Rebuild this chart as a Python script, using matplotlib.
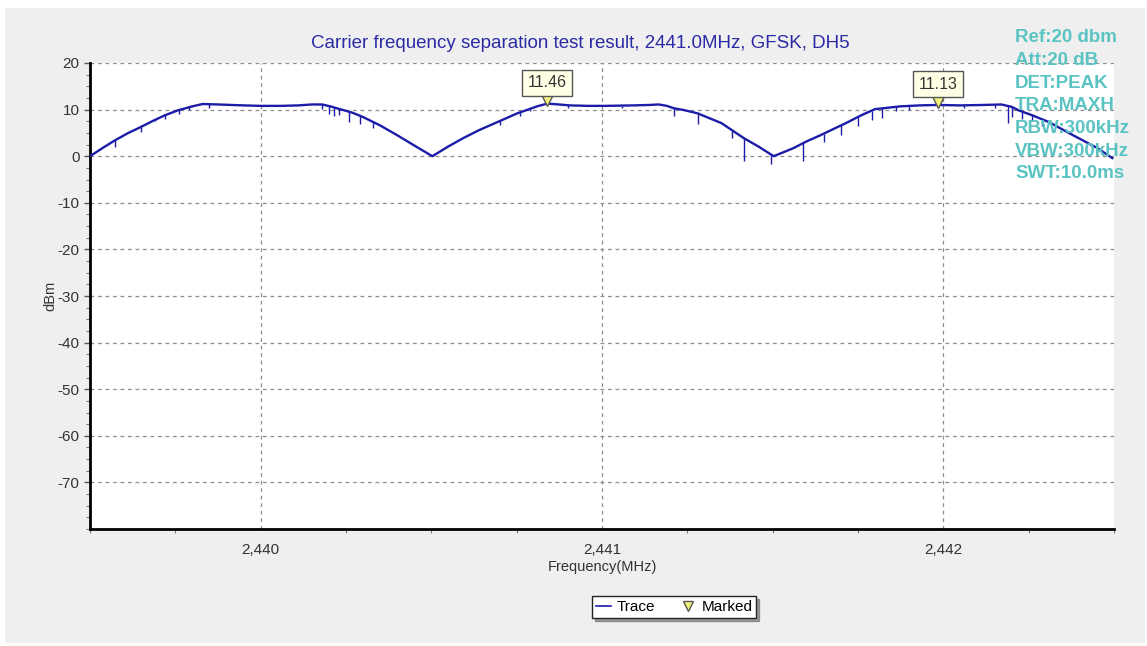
import numpy as np
import matplotlib
matplotlib.use("Agg")
import matplotlib.pyplot as plt
from matplotlib.patches import Rectangle
from matplotlib.ticker import FuncFormatter, MultipleLocator
from matplotlib.lines import Line2D

plt.rcParams['font.family'] = ['Liberation Sans', 'DejaVu Sans']
plt.rcParams['axes.unicode_minus'] = False

# ---- data ----
trace_freq = [2439.500, 2439.540, 2439.573, 2439.610, 2439.647, 2439.685, 2439.720,
              2439.758, 2439.800, 2439.830, 2439.875, 2439.950, 2440.000, 2440.060,
              2440.110, 2440.150, 2440.180, 2440.204, 2440.227, 2440.242, 2440.270,
              2440.300, 2440.350, 2440.400, 2440.450, 2440.503, 2440.550, 2440.594,
              2440.640, 2440.693, 2440.752, 2440.810, 2440.840, 2440.907, 2440.960,
              2441.010, 2441.090, 2441.140, 2441.166, 2441.190, 2441.210, 2441.240,
              2441.280, 2441.350, 2441.415, 2441.460, 2441.503, 2441.560, 2441.600,
              2441.640, 2441.680, 2441.720, 2441.760, 2441.800, 2441.875, 2441.930,
              2441.984, 2442.050, 2442.120, 2442.170, 2442.200, 2442.220, 2442.260,
              2442.310, 2442.380, 2442.450, 2442.495]
trace_level = [0.0, 1.9, 3.4, 4.9, 6.2, 7.6, 8.8,
               9.85, 10.7, 11.2, 11.1, 10.9, 10.8, 10.8,
               10.9, 11.1, 11.1, 10.7, 10.2, 9.9, 9.3,
               8.4, 6.6, 4.5, 2.3, 0.0, 2.1, 3.9,
               5.6, 7.3, 9.2, 10.7, 11.3, 10.9, 10.8,
               10.8, 10.9, 11.0, 11.1, 10.8, 10.3, 9.9,
               9.2, 7.1, 3.9, 2.0, 0.0, 1.7, 3.2,
               4.5, 5.9, 7.3, 8.8, 10.1, 10.7, 10.9,
               11.0, 10.9, 11.0, 11.1, 10.6, 9.85, 8.8,
               7.3, 4.5, 1.8, -0.4]

spike_freq = [2439.573, 2439.650, 2439.690, 2439.720, 2439.760, 2439.790, 2439.850,
              2440.180, 2440.200, 2440.215, 2440.230, 2440.260, 2440.290, 2440.330,
              2440.700, 2440.760, 2440.790, 2440.900, 2441.060, 2441.210, 2441.280,
              2441.380, 2441.415, 2441.495, 2441.588, 2441.650, 2441.700, 2441.750,
              2441.790, 2441.820, 2441.860, 2441.900, 2442.060, 2442.150, 2442.190,
              2442.200, 2442.230, 2442.260, 2442.290]
spike_level = [2.0, 5.3, 7.5, 8.0, 9.0, 10.0, 10.3,
               10.2, 9.0, 8.6, 8.8, 7.3, 7.0, 6.0,
               6.6, 8.6, 9.6, 10.3, 10.4, 8.6, 6.9,
               3.9, -1.1, -1.7, -1.1, 3.0, 4.5, 6.5,
               7.7, 8.1, 9.6, 10.0, 10.3, 10.3, 7.1,
               8.4, 8.0, 7.5, 6.5]

marker_freq = [2440.840, 2441.984]
marker_level = [11.46, 11.13]

title = "Carrier frequency separation test result, 2441.0MHz, GFSK, DH5"
info_lines = ["Ref:20 dbm", "Att:20 dB", "DET:PEAK", "TRA:MAXH",
              "RBW:300kHz", "VBW:300kHz", "SWT:10.0ms"]

W, H = 1147, 646
fig = plt.figure(figsize=(W / 100, H / 100), dpi=100)
fig.patch.set_facecolor('white')
fig.add_artist(Rectangle((5 / W, 1 - 643 / H), 1140 / W, 635 / H,
                         transform=fig.transFigure, facecolor='#efefef',
                         edgecolor='none', zorder=-10))

ax = fig.add_axes([90 / W, 1 - 529 / H, 1024 / W, 466 / H])
ax.set_facecolor('white')
ax.set_xlim(2439.5, 2442.5)
ax.set_ylim(-80, 20)

trace_color = '#1c1ca8'
ax.plot(trace_freq, trace_level, color=trace_color, lw=1.7, zorder=3)
base = np.interp(spike_freq, trace_freq, trace_level)
ax.vlines(spike_freq, spike_level, base, color=trace_color, lw=1.0, zorder=3)

ax.plot(marker_freq, [v + 0.5 for v in marker_level], linestyle='none', marker='v',
        markersize=8, markerfacecolor='#f3f07a', markeredgecolor='#555555',
        markeredgewidth=1.0, zorder=5)
for f, v in zip(marker_freq, marker_level):
    ax.annotate(f"{v:.2f}", (f, v), xytext=(0, 14.5), textcoords='offset points',
                ha='center', va='center', fontsize=11.5, color='#333333',
                bbox=dict(boxstyle='square,pad=0.35', facecolor='#ffffe6',
                          edgecolor='#555555', lw=1.0), zorder=6)

ax.set_xticks([2440, 2441, 2442])
ax.xaxis.set_minor_locator(MultipleLocator(0.25))
ax.set_yticks(list(range(-70, 21, 10)))
ax.yaxis.set_minor_locator(MultipleLocator(2.5))
ax.xaxis.set_major_formatter(FuncFormatter(lambda v, p: f"{v:,.0f}"))
ax.grid(True, which='major', color='#8c8c8c', linestyle=(0, (3, 3)), lw=0.9)
ax.tick_params(axis='both', which='major', labelsize=11, labelcolor='#333333',
               color='#555555', length=4, width=1)
ax.tick_params(axis='both', which='minor', color='#777777', length=3, width=0.8)
ax.tick_params(axis='x', which='major', length=0, pad=10)
for s in ['top', 'right']:
    ax.spines[s].set_visible(False)
for s in ['left', 'bottom']:
    ax.spines[s].set_linewidth(2)
    ax.spines[s].set_color('black')

ax.set_xlabel("Frequency(MHz)", fontsize=10.5, color='#333333', labelpad=2)
ax.set_ylabel("dBm", fontsize=10.5, color='#333333', labelpad=0)

fig.text(580 / W, 1 - 44 / H, title, ha='center', va='center', fontsize=13.5,
         color='#2b2ba6')

for i, line in enumerate(info_lines):
    fig.text(1015 / W, 1 - (38 + i * 22.6) / H, line, ha='left', va='center',
             fontsize=13.5, fontweight='bold', color='#5cc3c3', zorder=10)

handles = [Line2D([], [], color='#1c1ca8', lw=1.2),
           Line2D([], [], linestyle='none', marker='v', markersize=7,
                  markerfacecolor='#f3f07a', markeredgecolor='#555555')]
leg = fig.legend(handles, ['Trace', 'Marked'], loc='center',
                 bbox_to_anchor=(674 / W, 1 - 607 / H), ncol=2, fontsize=11,
                 frameon=True, fancybox=False, shadow=True, handlelength=1.0,
                 handletextpad=0.4, columnspacing=1.6, borderpad=0.25)
leg.get_frame().set_edgecolor('#222222')
leg.get_frame().set_linewidth(1.0)

fig.savefig("out.png", dpi=100)
